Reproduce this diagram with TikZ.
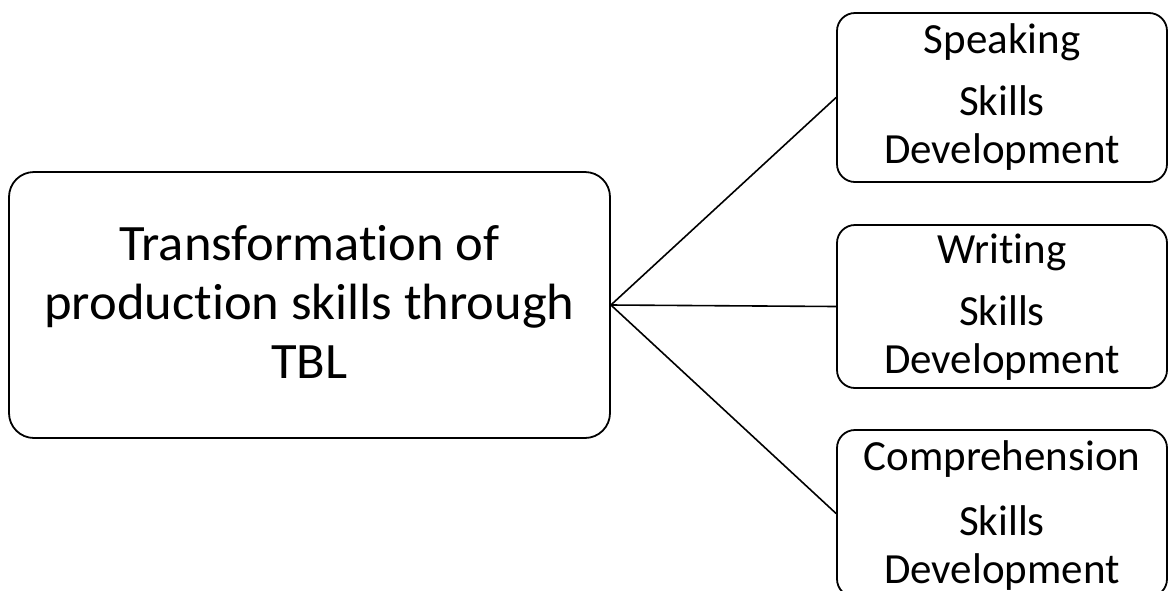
\documentclass[tikz,border=0pt]{standalone}
\usepackage{fontspec}
\usepackage{graphicx}
\setmainfont{Carlito}[Ligatures={NoCommon,NoRequired,NoContextual}]
\newcommand{\nolig}{\kern0pt }
\begin{document}
\begin{tikzpicture}[x=1pt,y=-1pt,
  mainbox/.style={draw=black,line width=1.8pt,rounded corners=25pt,inner sep=0pt,fill=white},
  subbox/.style={draw=black,line width=1.8pt,rounded corners=18pt,inner sep=0pt,fill=white},
  link/.style={draw=black,line width=1.6pt}]
\useasboundingbox (0,0) rectangle (1169,590);
\clip (0,0) rectangle (1169,590);
\fill[white] (0,0) rectangle (1169,590);
% central box: top 172, bottom 438
\node[mainbox,minimum width=601pt,minimum height=266pt] (main) at (309.5,305)
  {\scalebox{1.03}[1]{\begin{minipage}[t][266pt][t]{583pt}\centering\fontsize{51}{59}\selectfont
   \rule{0pt}{88pt}Transformat\nolig ion of\\product\nolig ion skills through\\TBL\end{minipage}}};
% right boxes
\node[subbox,minimum width=330pt,minimum height=169pt] (speak) at (1002,97.5)
  {\begin{minipage}[t][169pt][t]{330pt}\centering\fontsize{43}{48}\selectfont
   \rule{0pt}{40pt}Speaking\\[14pt]Skills\\Development\end{minipage}};
\node[subbox,minimum width=330pt,minimum height=163pt] (write) at (1002,306.5)
  {\begin{minipage}[t][163pt][t]{330pt}\centering\fontsize{43}{48}\selectfont
   \rule{0pt}{38pt}Writ\nolig ing\\[14pt]Skills\\Development\end{minipage}};
\node[subbox,minimum width=330pt,minimum height=167pt] (compr) at (1002,513.5)
  {\begin{minipage}[t][167pt][t]{330pt}\centering\fontsize{43}{48}\selectfont
   \rule{0pt}{40pt}Comprehension\\[17pt]Skills\\Development\end{minipage}};
% connectors
\draw[link] (main.east) -- (speak.west);
\draw[link] (main.east) -- (write.west);
\draw[link] (main.east) -- (compr.west);
\end{tikzpicture}
\end{document}
